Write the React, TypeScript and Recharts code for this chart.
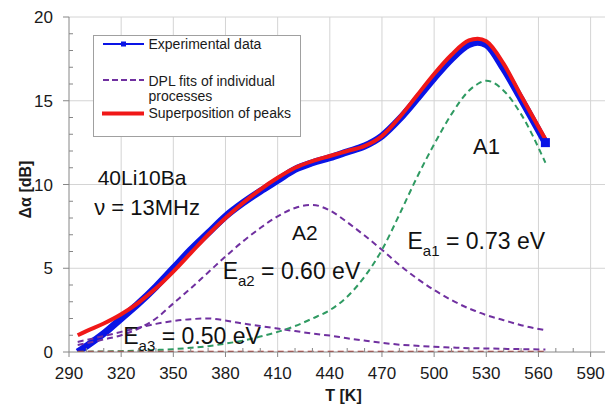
import React from 'react';
import { LineChart, Line, XAxis, YAxis, CartesianGrid, Legend, ReferenceDot } from 'recharts';

// ---- data ----
const temperatures = [295, 300, 310, 320, 330, 340, 350, 360, 370, 380, 390, 400, 410, 420, 430, 440, 450, 460, 470, 480, 490, 500, 510, 520, 525, 530, 540, 550, 564];
const experimental = [0.0, 0.35, 1.1, 2.0, 2.9, 3.9, 5.0, 6.1, 7.1, 8.1, 8.9, 9.6, 10.25, 10.9, 11.3, 11.6, 11.95, 12.3, 12.9, 13.9, 15.1, 16.35, 17.5, 18.35, 18.5, 18.35, 16.9, 15.1, 12.5];
const superposition = [1.0, 1.25, 1.7, 2.25, 2.95, 3.8, 4.8, 5.9, 7.0, 8.0, 8.9, 9.7, 10.4, 11.0, 11.4, 11.7, 12.0, 12.3, 12.9, 14.0, 15.3, 16.6, 17.75, 18.6, 18.7, 18.55, 17.2, 15.3, 12.7];
const fitA1 = [0.0, 0.02, 0.03, 0.05, 0.08, 0.12, 0.17, 0.25, 0.35, 0.5, 0.68, 0.92, 1.2, 1.55, 2.0, 2.5, 3.3, 4.5, 6.1, 8.2, 10.4, 12.4, 14.2, 15.6, 16.0, 16.2, 15.6, 14.2, 11.3];
const fitA2 = [0.42, 0.52, 0.75, 1.0, 1.4, 2.0, 2.9, 3.8, 4.75, 5.7, 6.6, 7.4, 8.1, 8.6, 8.78, 8.45, 7.75, 6.95, 6.1, 5.2, 4.4, 3.7, 3.1, 2.6, 2.4, 2.2, 1.9, 1.6, 1.3];
const fitA3 = [0.6, 0.72, 0.95, 1.2, 1.45, 1.68, 1.85, 1.96, 2.0, 1.88, 1.7, 1.55, 1.4, 1.25, 1.1, 0.98, 0.82, 0.68, 0.55, 0.44, 0.37, 0.31, 0.27, 0.23, 0.22, 0.21, 0.19, 0.17, 0.15];
const fitA4 = [0.01, 0.01, 0.01, 0.01, 0.01, 0.01, 0.01, 0.01, 0.01, 0.01, 0.01, 0.01, 0.01, 0.01, 0.01, 0.01, 0.01, 0.01, 0.01, 0.01, 0.01, 0.01, 0.01, 0.01, 0.01, 0.01, 0.01, 0.01, 0.01];

const xTicks = [290, 300, 310, 320, 330, 340, 350, 360, 370, 380, 390, 400, 410, 420, 430, 440, 450, 460, 470, 480, 490, 500, 510, 520, 530, 540, 550, 560, 570, 580, 590];
const xLabels = [290, 320, 350, 380, 410, 440, 470, 500, 530, 560, 590];
const yTicks = [0, 1, 2, 3, 4, 5, 6, 7, 8, 9, 10, 11, 12, 13, 14, 15, 16, 17, 18, 19, 20];
const yLabels = [0, 5, 10, 15, 20];
const gridX = [320, 350, 380, 410, 440, 470, 500, 530, 560, 590, 600];
const gridY = [5, 10, 15, 20];

const annotations = [
  { t: 306.5, v: 9.95, main: '40Li10Ba', sub: '', rest: '', size: 21 },
  { t: 304.5, v: 8.16, main: 'ν = 13MHz', sub: '', rest: '', size: 22 },
  { t: 418.3, v: 6.67, main: 'A2', sub: '', rest: '', size: 21 },
  { t: 522.4, v: 11.8, main: 'A1', sub: '', rest: '', size: 22 },
  { t: 378.4, v: 4.34, main: 'E', sub: 'a2', rest: ' = 0.60 eV', size: 23 },
  { t: 321.2, v: 0.46, main: 'E', sub: 'a3', rest: ' = 0.50 eV', size: 23 },
  { t: 484.7, v: 6.15, main: 'E', sub: 'a1', rest: ' = 0.73 eV', size: 23 },
];

const FONT = '"Liberation Sans", Arial, sans-serif';
const BLUE = '#0a14e6';
const RED = '#f01818';
const PURPLE = '#7030a0';
const GREEN = '#2f9a62';
const DARKRED = '#b0302c';
const AXIS = '#868686';

const rows = temperatures.map((t, i) => ({
  t,
  exp: experimental[i],
  a1: fitA1[i],
  a2: fitA2[i],
  a3: fitA3[i],
  a4: fitA4[i],
  sum: superposition[i],
}));

const XTick = (props: any) => {
  const { x, y, payload } = props;
  const v = payload.value;
  const major = xLabels.includes(v);
  return (
    <g>
      {major ? (
        <line x1={x} x2={x} y1={y} y2={y + 5} stroke={AXIS} />
      ) : (
        <line x1={x} x2={x} y1={y} y2={y - 4} stroke={AXIS} />
      )}
      {major && (
        <text x={x} y={y + 27} textAnchor="middle" fontSize={17} fill="#1a1a1a" fontFamily={FONT}>
          {v}
        </text>
      )}
    </g>
  );
};

const YTick = (props: any) => {
  const { x, y, payload } = props;
  const v = payload.value;
  const major = yLabels.includes(v);
  return (
    <g>
      {major ? (
        <line x1={x - 6} x2={x} y1={y} y2={y} stroke={AXIS} />
      ) : (
        <line x1={x} x2={x + 4} y1={y} y2={y} stroke={AXIS} />
      )}
      {major && (
        <text x={x - 16} y={y + 6} textAnchor="end" fontSize={17} fill="#1a1a1a" fontFamily={FONT}>
          {v}
        </text>
      )}
    </g>
  );
};

const renderLegend = () => (
  <svg width={208} height={102} style={{ display: 'block', overflow: 'visible' }}>
    <rect x={0.5} y={0.5} width={207} height={101} fill="#ffffff" stroke="#a0a0a0" />
    <line x1={10} x2={51} y1={9} y2={9} stroke={BLUE} strokeWidth={2} />
    <rect x={28} y={6.5} width={5} height={5} fill={BLUE} />
    <text x={55.5} y={14} fontSize={14} fill="#1a1a1a" fontFamily={FONT}>Experimental data</text>
    <line x1={10} x2={51} y1={45} y2={45} stroke={PURPLE} strokeWidth={2} strokeDasharray="6 3" />
    <text x={55.5} y={50.5} fontSize={14} fill="#1a1a1a" fontFamily={FONT}>DPL fits of individual</text>
    <text x={55.5} y={66} fontSize={14} fill="#1a1a1a" fontFamily={FONT}>processes</text>
    <line x1={9} x2={51} y1={78.5} y2={78.5} stroke={RED} strokeWidth={4} />
    <text x={55.5} y={83} fontSize={14} fill="#1a1a1a" fontFamily={FONT}>Superposition of peaks</text>
  </svg>
);

const makeAnnotationLabel = (a: any) => (props: any) => {
  const vb = props.viewBox || {};
  const x = vb.x;
  const y = vb.y;
  return (
    <text x={x} y={y} fontSize={a.size} fill="#111111" fontFamily={FONT} style={{ whiteSpace: 'pre' }}>
      <tspan>{a.main}</tspan>
      {a.sub ? (
        <tspan fontSize={15} dy={7}>{a.sub}</tspan>
      ) : null}
      {a.rest ? (
        <tspan fontSize={a.size} dy={-7}>{a.rest}</tspan>
      ) : null}
    </text>
  );
};

const xAxisTitle = (props: any) => {
  const vb = props.viewBox || {};
  return (
    <text x={vb.x + vb.width / 2 + 5} y={vb.y + 49} textAnchor="middle" fontSize={16} fontWeight="bold" fill="#1a1a1a" fontFamily={FONT}>
      T [K]
    </text>
  );
};

const yAxisTitle = (props: any) => {
  const vb = props.viewBox || {};
  const cx = vb.x + 17;
  const cy = vb.y + vb.height / 2 + 5;
  return (
    <text x={cx} y={cy} transform={`rotate(-90 ${cx} ${cy})`} textAnchor="middle" dominantBaseline="central" fontSize={16} fontWeight="bold" fill="#1a1a1a" fontFamily={FONT}>
      Δα [dB]
    </text>
  );
};

export default function App() {
  const last = temperatures.length - 1;
  return (
    <div style={{ fontFamily: FONT, width: 605, height: 400 }}>
      <LineChart width={605} height={400} data={rows} margin={{ top: 9, right: 5, bottom: 0, left: 0 }}>
        <CartesianGrid stroke="#d4d4d4" horizontalValues={gridY} verticalValues={gridX} />
        <XAxis
          dataKey="t"
          type="number"
          domain={[290, 600]}
          ticks={xTicks}
          interval={0}
          height={56}
          tickSize={0}
          tickMargin={0}
          tickLine={false}
          axisLine={{ stroke: AXIS }}
          tick={<XTick />}
          label={xAxisTitle}
          allowDataOverflow
        />
        <YAxis
          type="number"
          domain={[0, 20]}
          ticks={yTicks}
          interval={0}
          width={61}
          tickSize={0}
          tickMargin={0}
          tickLine={false}
          axisLine={{ stroke: AXIS }}
          tick={<YTick />}
          label={yAxisTitle}
          allowDataOverflow
        />
        <Line
          dataKey="exp"
          type="monotone"
          stroke={BLUE}
          strokeWidth={7}
          isAnimationActive={false}
          dot={(p: any) =>
            p.index === last ? (
              <rect key="end" x={p.cx - 4.5} y={p.cy - 4.5} width={9} height={9} fill={BLUE} />
            ) : (
              <g key={`d${p.index}`} />
            )
          }
          activeDot={false}
        />
        <Line dataKey="a2" type="monotone" stroke={PURPLE} strokeWidth={2} strokeDasharray="6 4" dot={false} activeDot={false} isAnimationActive={false} />
        <Line dataKey="a3" type="monotone" stroke={PURPLE} strokeWidth={2} strokeDasharray="6 4" dot={false} activeDot={false} isAnimationActive={false} />
        <Line dataKey="a1" type="monotone" stroke={GREEN} strokeWidth={2} strokeDasharray="6 4" dot={false} activeDot={false} isAnimationActive={false} />
        <Line dataKey="a4" type="monotone" stroke={DARKRED} strokeWidth={2} strokeDasharray="6 4" dot={false} activeDot={false} isAnimationActive={false} />
        <Line dataKey="sum" type="monotone" stroke={RED} strokeWidth={4} dot={false} activeDot={false} isAnimationActive={false} />
        {annotations.map((a, i) => (
          <ReferenceDot key={`ann${i}`} x={a.t} y={a.v} r={0} fill="none" stroke="none" label={makeAnnotationLabel(a)} />
        ))}
        <Legend
          layout="horizontal"
          verticalAlign="middle"
          align="center"
          content={renderLegend}
          wrapperStyle={{ left: 85, top: 27, width: 208, height: 102 }}
        />
      </LineChart>
    </div>
  );
}
